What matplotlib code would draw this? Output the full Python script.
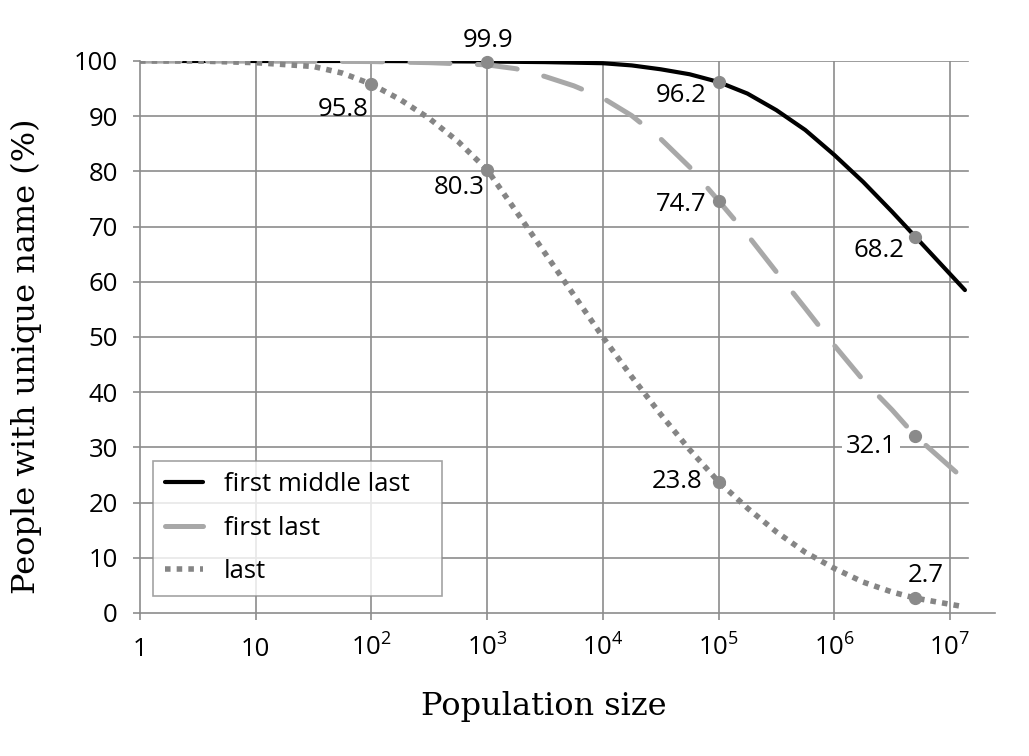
import matplotlib
matplotlib.use('Agg')
import matplotlib.pyplot as plt
import numpy as np

plt.rcParams['font.family'] = ['Open Sans', 'DejaVu Sans']
plt.rcParams['mathtext.fontset'] = 'custom'
plt.rcParams['mathtext.rm'] = 'Open Sans'

# curve readings: log10(population) -> % unique
fml_exp = [0, 1, 2, 3, 3.5, 4, 4.25, 4.5, 4.75, 5, 5.25, 5.5, 5.75, 6, 6.25, 6.5, 6.7, 7.13]
fml_val = [100, 100, 100, 99.9, 99.8, 99.6, 99.2, 98.5, 97.6, 96.2, 94.1, 91.1, 87.5, 83.0, 78.1, 72.7, 68.2, 58.5]

fl_exp = [0, 1, 2, 2.5, 3, 3.25, 3.5, 3.75, 4, 4.25, 4.5, 4.75, 5, 5.25, 5.5, 5.75, 6, 6.25, 6.5, 6.7, 7.13]
fl_val = [100, 100, 99.9, 99.7, 99.3, 98.6, 97.2, 95.5, 93.3, 90.1, 85.9, 80.8, 74.7, 68.5, 61.8, 55.2, 48.5, 42.2, 36.8, 32.1, 24.1]

last_exp = [0, 0.5, 1, 1.5, 1.75, 2, 2.25, 2.5, 2.75, 3, 3.25, 3.5, 3.75, 4, 4.25, 4.5, 4.75, 5,
            5.25, 5.5, 5.75, 6, 6.25, 6.5, 6.7, 7.13]
last_val = [100, 100, 99.7, 99.0, 97.8, 95.8, 93.0, 89.6, 85.4, 80.3, 72.8, 65.2, 57.6, 50.0, 42.8, 36.0, 29.6, 23.8,
            19.0, 14.7, 11.0, 8.1, 5.6, 3.8, 2.7, 1.1]

# labelled points
fml_pts_x = [1e5, 5e6]
fml_pts_y = [96.2, 68.2]
fl_pts_x = [1e3, 1e5, 5e6]
fl_pts_y = [99.9, 74.7, 32.1]
last_pts_x = [1e2, 1e3, 1e5, 5e6]
last_pts_y = [95.8, 80.3, 23.8, 2.7]

xticks = [1, 10, 1e2, 1e3, 1e4, 1e5, 1e6, 1e7]
xticklabels = ['1', '10', r'$\mathregular{10^{2}}$', r'$\mathregular{10^{3}}$', r'$\mathregular{10^{4}}$',
               r'$\mathregular{10^{5}}$', r'$\mathregular{10^{6}}$', r'$\mathregular{10^{7}}$']

GRID = '#8c8c8c'
MARK = '#8a8a8a'
FS = 18.5

fig = plt.figure(figsize=(10.29, 7.56), dpi=100)
ax = fig.add_axes([140 / 1029, 1 - 613 / 756, 855 / 1029, 552 / 756])

ax.set_xscale('log')
ax.set_xlim(1, 10 ** (855 / 115.7))
ax.set_ylim(0, 100)

for y in range(10, 101, 10):
    ax.axhline(y, xmax=0.968, color=GRID, lw=1.2, zorder=1)
for x in xticks[1:]:
    ax.axvline(x, color=GRID, lw=1.2, zorder=1)

line_fml, = ax.plot(10 ** np.array(fml_exp), fml_val, color='black', lw=3.0,
                    solid_capstyle='round', solid_joinstyle='round', zorder=3, label='first middle last')
line_fl, = ax.plot(10 ** np.array(fl_exp), fl_val, color='#a8a8a8', lw=3.6,
                   dashes=(8, 5.5), dash_capstyle='round', zorder=3, label='first last')
line_last, = ax.plot(10 ** np.array(last_exp), last_val, color='#858585', lw=4.0,
                     dashes=(1, 1.1), dash_capstyle='butt', zorder=3, label='last')

for px, py in [(fml_pts_x, fml_pts_y), (fl_pts_x, fl_pts_y), (last_pts_x, last_pts_y)]:
    ax.plot(px, py, 'o', color=MARK, ms=8.5, zorder=4, clip_on=False)

# value labels: (x, y, dx, dy, ha)
notes = [
    (1e2, 95.8, -2, -18, 'right'),
    (1e3, 99.9, 1, 15.5, 'center'),
    (1e3, 80.3, -1.5, -12.5, 'right'),
    (1e5, 96.2, -8.5, -9.5, 'right'),
    (1e5, 74.7, -8.5, -2.5, 'right'),
    (5e6, 68.2, -8, -10, 'right'),
    (1e5, 23.8, -11.5, 0, 'right'),
    (5e6, 2.7, 8, 16.5, 'center'),
]
for x, y, dx, dy, ha in notes:
    ax.annotate('%.1f' % y, (x, y), xytext=(dx, dy), textcoords='offset points',
                ha=ha, va='center', fontsize=FS, zorder=5)
ax.annotate('32.1', (5e6, 32.1), xytext=(-13.7, -8), textcoords='offset points',
            ha='right', va='center', fontsize=FS, zorder=2,
            bbox=dict(boxstyle='square,pad=0.15', fc='white', ec='none'))

for s in ['top', 'right']:
    ax.spines[s].set_visible(False)
for s in ['left', 'bottom']:
    ax.spines[s].set_color(GRID)
    ax.spines[s].set_linewidth(1.2)

ax.set_xticks(xticks)
ax.set_xticklabels(xticklabels)
ax.xaxis.set_minor_locator(matplotlib.ticker.NullLocator())
ax.set_yticks(range(0, 101, 10))
ax.tick_params(axis='both', direction='out', length=5, width=1.2, color=GRID, labelsize=FS)
ax.tick_params(axis='y', pad=11)
ax.tick_params(axis='x', pad=26)
for t in ax.get_xticklabels():
    t.set_va('baseline')

ax.set_xlabel('Population size', family='DejaVu Serif', fontsize=23)
ax.xaxis.set_label_coords(0.472, -0.142)
ax.set_ylabel('People with unique name (%)', family='DejaVu Serif', fontsize=23)
ax.yaxis.set_label_coords(-0.115, 0.465)

leg = ax.legend(handles=[line_fml, line_fl, line_last], loc='lower left',
                bbox_to_anchor=(13 / 855, 17 / 552, 289 / 855, 137 / 552), mode='expand',
                fontsize=FS, frameon=True, fancybox=False, handlelength=1.5,
                borderpad=0.45, labelspacing=0.72, handletextpad=0.8, borderaxespad=0)
leg.get_frame().set_edgecolor(GRID)
leg.get_frame().set_linewidth(1.2)

fig.savefig('out.png', dpi=100, facecolor='white')
